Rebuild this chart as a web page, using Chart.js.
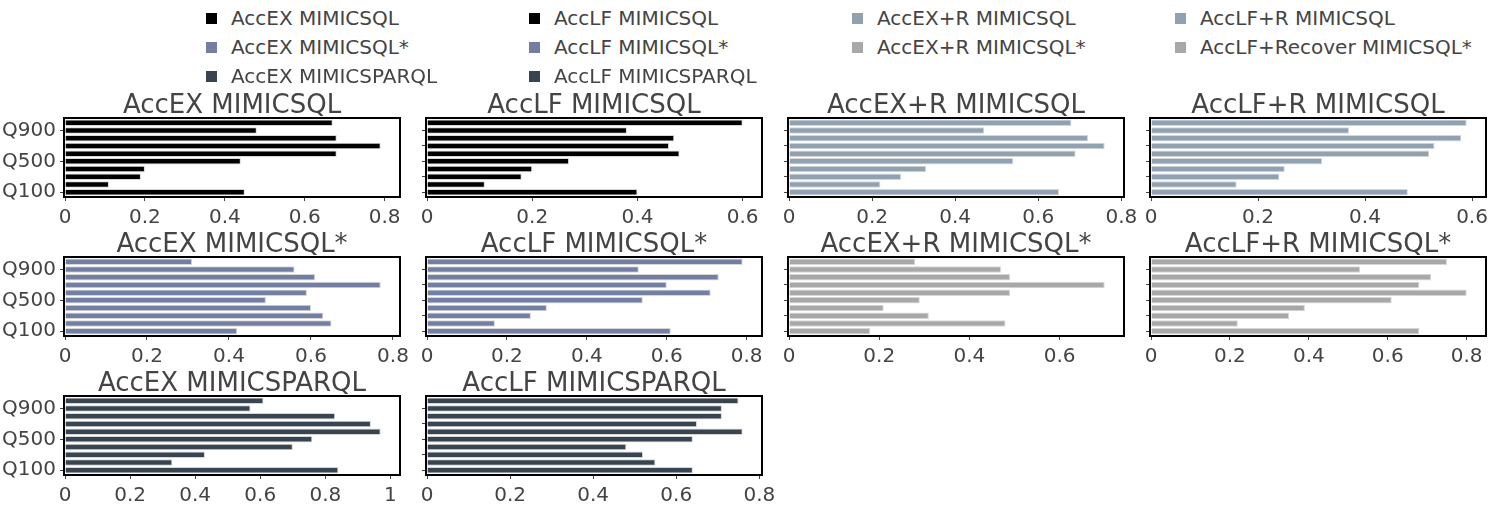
<!DOCTYPE html>
<html>
<head>
<meta charset="utf-8">
<title>Accuracy by query budget</title>
<script src="https://cdn.jsdelivr.net/npm/chart.js@4.4.1/dist/chart.umd.min.js"></script>
<style>
  body { margin: 0; background: #fff; }
  #page { position: relative; width: 1496px; height: 513px; overflow: hidden;
          font-family: "DejaVu Sans", Verdana, sans-serif; color: #444; }
  .panel { position: absolute; }
  .legend-item { position: absolute; font-size: 20px; line-height: 22px; white-space: nowrap; }
  .legend-item .swatch { position: absolute; width: 11px; height: 11px; left: -25px; top: 6px; }
</style>
</head>
<body>
<div id="page"></div>
<script>
// Query budgets, bottom to top
const categories = ["Q100", "Q200", "Q300", "Q400", "Q500", "Q600", "Q700", "Q800", "Q900", "Q1000"];

// Accuracy per query budget
const accExMimicsql = [0.45, 0.11, 0.19, 0.20, 0.44, 0.68, 0.79, 0.68, 0.48, 0.67];
const accLfMimicsql = [0.40, 0.11, 0.18, 0.20, 0.27, 0.48, 0.46, 0.47, 0.38, 0.60];
const accExRMimicsql = [0.65, 0.22, 0.27, 0.33, 0.54, 0.69, 0.76, 0.72, 0.47, 0.68];
const accLfRMimicsql = [0.48, 0.16, 0.24, 0.25, 0.32, 0.52, 0.53, 0.58, 0.37, 0.59];
const accExMimicsqlStar = [0.42, 0.65, 0.63, 0.60, 0.49, 0.59, 0.77, 0.61, 0.56, 0.31];
const accLfMimicsqlStar = [0.61, 0.17, 0.26, 0.30, 0.54, 0.71, 0.60, 0.73, 0.53, 0.79];
const accExRMimicsqlStar = [0.18, 0.48, 0.31, 0.21, 0.29, 0.49, 0.70, 0.49, 0.47, 0.28];
const accLfRecoverMimicsqlStar = [0.68, 0.22, 0.35, 0.39, 0.61, 0.80, 0.68, 0.71, 0.53, 0.75];
const accExMimicsparql = [0.84, 0.33, 0.43, 0.70, 0.76, 0.97, 0.94, 0.83, 0.57, 0.61];
const accLfMimicsparql = [0.64, 0.55, 0.52, 0.48, 0.64, 0.76, 0.65, 0.71, 0.71, 0.75];

// Panel order = legend order (row by row)
const seriesNames = [
    "AccEX MIMICSQL", "AccLF MIMICSQL", "AccEX+R MIMICSQL", "AccLF+R MIMICSQL",
    "AccEX MIMICSQL*", "AccLF MIMICSQL*", "AccEX+R MIMICSQL*", "AccLF+Recover MIMICSQL*",
    "AccEX MIMICSPARQL", "AccLF MIMICSPARQL"
];
const panelTitles = [
    "AccEX MIMICSQL", "AccLF MIMICSQL", "AccEX+R MIMICSQL", "AccLF+R MIMICSQL",
    "AccEX MIMICSQL*", "AccLF MIMICSQL*", "AccEX+R MIMICSQL*", "AccLF+R MIMICSQL*",
    "AccEX MIMICSPARQL", "AccLF MIMICSPARQL"
];
const seriesValues = [
    accExMimicsql, accLfMimicsql, accExRMimicsql, accLfRMimicsql,
    accExMimicsqlStar, accLfMimicsqlStar, accExRMimicsqlStar, accLfRecoverMimicsqlStar,
    accExMimicsparql, accLfMimicsparql
];
const seriesColors = [
    "#000000", "#000000", "#90a2b2", "#90a2b2",
    "#737ea3", "#737ea3", "#a8a8a8", "#a8a8a8",
    "#38444f", "#38444f"
];

// Layout
const FONT = '"DejaVu Sans", Verdana, sans-serif';
const plotLefts = [65, 427, 789, 1151];
const plotTops = [119, 258, 397];
const PLOT_W = 334, PLOT_H = 77;
const SIDE = 65, TITLE_H = 40, X_AXIS_H = 40;
const legendX = [231, 554, 877, 1200];
const legendY = [7, 36, 65];

const page = document.getElementById("page");

// Black box around each plot area (mirrored axis lines)
const framePlugin = {
    id: "frame",
    afterDatasetsDraw(chart) {
        const a = chart.chartArea;
        const c = chart.ctx;
        c.save();
        c.strokeStyle = "#000";
        c.lineWidth = 2;
        c.strokeRect(a.left - 1, a.top - 1, a.right - a.left + 2, a.bottom - a.top + 2);
        c.restore();
    }
};

seriesValues.forEach((values, i) => {
    const row = Math.floor(i / 4);
    const col = i % 4;

    // legend entry
    const item = document.createElement("div");
    item.className = "legend-item";
    item.style.left = legendX[col] + "px";
    item.style.top = legendY[row] + "px";
    item.textContent = seriesNames[i];
    const sw = document.createElement("span");
    sw.className = "swatch";
    sw.style.background = seriesColors[i];
    item.appendChild(sw);
    page.appendChild(item);

    // panel (equal side strips so the title centres over the plot)
    const canvas = document.createElement("canvas");
    const w = SIDE + PLOT_W + SIDE;
    const h = TITLE_H + PLOT_H + X_AXIS_H;
    canvas.width = w;
    canvas.height = h;
    canvas.className = "panel";
    canvas.style.left = (plotLefts[col] - SIDE) + "px";
    canvas.style.top = (plotTops[row] - TITLE_H) + "px";
    canvas.style.width = w + "px";
    canvas.style.height = h + "px";
    page.appendChild(canvas);

    const xMax = Math.max(...values) * 1.058;
    const tickStep = col === 0 ? 4 : 2;

    new Chart(canvas.getContext("2d"), {
        type: "bar",
        data: {
            labels: categories,
            datasets: [{
                label: seriesNames[i],
                data: values,
                backgroundColor: seriesColors[i],
                borderColor: "#d6d6d6",
                borderWidth: 1,
                barPercentage: 0.85,
                categoryPercentage: 1.0,
                yAxisID: "y"
            }]
        },
        options: {
            indexAxis: "y",
            responsive: false,
            animation: false,
            devicePixelRatio: 1,
            layout: { padding: 0 },
            plugins: {
                legend: { display: false },
                tooltip: { enabled: false },
                title: {
                    display: true,
                    text: panelTitles[i],
                    color: "#444",
                    font: { family: FONT, size: 26, weight: "normal", lineHeight: 1.0 },
                    padding: { top: 14, bottom: 0 }
                }
            },
            scales: {
                y: {
                    reverse: true,
                    offset: true,
                    afterFit: s => { s.width = SIDE; },
                    border: { display: false },
                    grid: {
                        offset: false,
                        drawOnChartArea: false,
                        tickLength: 5,
                        color: ctx => (ctx.index % tickStep === 0 ? "#444" : "rgba(0,0,0,0)")
                    },
                    ticks: {
                        autoSkip: false,
                        padding: 4,
                        color: "#444",
                        font: { family: FONT, size: 20 },
                        callback: (v, idx) => (col === 0 && idx % 4 === 0 ? categories[idx] : "")
                    }
                },
                // empty strip on the right, same width as the left axis
                yRight: {
                    type: "linear",
                    position: "right",
                    afterFit: s => { s.width = SIDE; },
                    border: { display: false },
                    grid: { display: false },
                    ticks: { display: false }
                },
                x: {
                    min: 0,
                    max: xMax,
                    afterFit: s => { s.height = X_AXIS_H; },
                    // ticks every 0.2, never the unrounded axis max
                    afterBuildTicks: s => {
                        const t = [];
                        for (let k = 0; k * 0.2 <= s.max + 1e-9; k++) t.push({ value: Number((k * 0.2).toFixed(1)) });
                        s.ticks = t;
                    },
                    border: { display: false },
                    grid: { drawOnChartArea: false, tickLength: 5, color: "#444" },
                    ticks: {
                        autoSkip: false,
                        maxRotation: 0,
                        padding: 5,
                        color: "#444",
                        font: { family: FONT, size: 20 },
                        callback: v => String(Number(Number(v).toFixed(1)))
                    }
                }
            }
        },
        plugins: [framePlugin]
    });
});
</script>
</body>
</html>
